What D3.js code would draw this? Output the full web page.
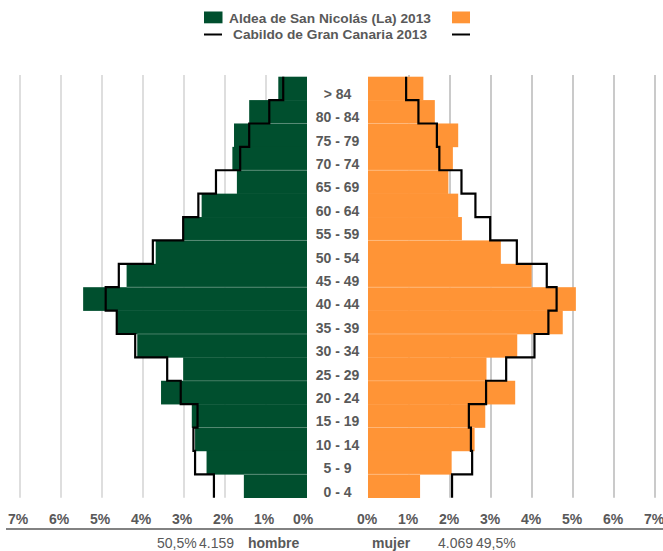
<!DOCTYPE html>
<html>
<head>
<meta charset="utf-8">
<script src="https://cdn.jsdelivr.net/npm/d3@7"></script>
<style>
  body { margin: 0; background: #fff; }
  text { font-family: "Liberation Sans", Arial, sans-serif; fill: #595959; }
</style>
</head>
<body>
<div id="pyramid"></div>
<script>
const width = 663;
const height = 551;

// grupos de edad, de arriba a abajo
const ages = ['> 84', '80 - 84', '75 - 79', '70 - 74', '65 - 69', '60 - 64', '55 - 59', '50 - 54', '45 - 49',
  '40 - 44', '35 - 39', '30 - 34', '25 - 29', '20 - 24', '15 - 19', '10 - 14', '5 - 9', '0 - 4'];

// % de la población total
const aldeaHombre = [0.70, 1.41, 1.78, 1.82, 1.71, 2.57, 3.02, 3.69, 4.40, 5.46, 4.63, 4.14, 3.02, 3.56, 2.81, 2.73, 2.45, 1.54];
const aldeaMujer = [1.35, 1.63, 2.20, 2.07, 1.96, 2.20, 2.29, 3.24, 3.99, 5.07, 4.75, 3.64, 2.89, 3.59, 2.86, 2.60, 2.04, 1.27];
const cabildoHombre = [0.58, 0.92, 1.41, 1.63, 2.22, 2.65, 3.02, 3.76, 4.59, 4.91, 4.64, 4.19, 3.41, 3.08, 2.67, 2.77, 2.73, 2.27];
const cabildoMujer = [0.93, 1.23, 1.68, 1.74, 2.28, 2.62, 2.98, 3.63, 4.36, 4.60, 4.40, 4.06, 3.37, 2.88, 2.46, 2.51, 2.54, 2.05];

const ticks = [0, 1, 2, 3, 4, 5, 6, 7];
const legendNames = ['Aldea de San Nicolás (La) 2013', 'Cabildo de Gran Canaria 2013'];
const totalHombre = ['50,5%', '4.159'];
const totalMujer = ['4.069', '49,5%'];

const green = '#004f2e';
const orange = '#ff9436';

const svg = d3.select('#pyramid')
  .append('svg')
  .attr('width', width)
  .attr('height', height);

const xL = d3.scaleLinear().domain([0, 7]).range([307, 20]);
const xR = d3.scaleLinear().domain([0, 7]).range([368, 655]);
const y = d3.scaleBand().domain(ages).range([76.7, 497.7]);
const bw = y.bandwidth();

// rejilla vertical
svg.append('g')
  .selectAll('line')
  .data(ticks.slice(1))
  .join('line')
  .attr('x1', d => xL(d)).attr('x2', d => xL(d))
  .attr('y1', 75).attr('y2', 497.7)
  .attr('stroke', '#d0d0d0')
  .attr('stroke-width', 1.4);

svg.append('g')
  .selectAll('line')
  .data(ticks.slice(1))
  .join('line')
  .attr('x1', d => xR(d)).attr('x2', d => xR(d))
  .attr('y1', 75).attr('y2', 497.7)
  .attr('stroke', '#b4b4b4')
  .attr('stroke-width', 1.4);

// barras
svg.append('g')
  .selectAll('rect')
  .data(aldeaHombre)
  .join('rect')
  .attr('x', d => xL(d))
  .attr('y', (d, i) => y(ages[i]))
  .attr('width', d => xL(0) - xL(d))
  .attr('height', bw + 0.3)
  .attr('fill', green);

svg.append('g')
  .selectAll('rect')
  .data(aldeaMujer)
  .join('rect')
  .attr('x', xR(0))
  .attr('y', (d, i) => y(ages[i]))
  .attr('width', d => xR(d) - xR(0))
  .attr('height', bw + 0.3)
  .attr('fill', orange);

// finas lineas claras entre algunas barras (como en el original)
const seams = [2, 4, 7, 9, 11, 13, 15, 17];
seams.forEach(k => {
  const yy = y(ages[k]);
  svg.append('line')
    .attr('x1', Math.max(xL(aldeaHombre[k]), xL(aldeaHombre[k - 1])))
    .attr('x2', xL(0))
    .attr('y1', yy).attr('y2', yy)
    .attr('stroke', 'rgba(255,255,255,0.35)')
    .attr('stroke-width', 0.8);
  svg.append('line')
    .attr('x1', xR(0))
    .attr('x2', Math.min(xR(aldeaMujer[k]), xR(aldeaMujer[k - 1])))
    .attr('y1', yy).attr('y2', yy)
    .attr('stroke', 'rgba(255,255,255,0.35)')
    .attr('stroke-width', 0.8);
});

// escalones del Cabildo
const stepPoints = (vals, x) => vals.flatMap((v, i) => [[x(v), y(ages[i])], [x(v), y(ages[i]) + bw]]);
const line = d3.line();

svg.append('path')
  .attr('d', line(stepPoints(cabildoHombre, xL)))
  .attr('fill', 'none')
  .attr('stroke', '#000')
  .attr('stroke-width', 2.2);

svg.append('path')
  .attr('d', line(stepPoints(cabildoMujer, xR)))
  .attr('fill', 'none')
  .attr('stroke', '#000')
  .attr('stroke-width', 2.2);

// etiquetas de edad (un poco por debajo del centro, como en el original)
svg.append('g')
  .selectAll('text')
  .data(ages)
  .join('text')
  .attr('x', (xL(0) + xR(0)) / 2)
  .attr('y', d => y(d) + bw / 2 + 10.5)
  .attr('text-anchor', 'middle')
  .style('font-size', '14px')
  .style('font-weight', 'bold')
  .text(d => d);

// eje inferior
svg.append('g')
  .selectAll('text')
  .data(ticks)
  .join('text')
  .attr('x', d => d === 0 ? xL(d) - 4 : xL(d) - 2)
  .attr('y', 524)
  .attr('text-anchor', 'middle')
  .style('font-size', '14px')
  .style('font-weight', 'bold')
  .text(d => d + '%');

svg.append('g')
  .selectAll('text')
  .data(ticks)
  .join('text')
  .attr('x', d => xR(d) - 1)
  .attr('y', 524)
  .attr('text-anchor', 'middle')
  .style('font-size', '14px')
  .style('font-weight', 'bold')
  .text(d => d + '%');

svg.append('line')
  .attr('x1', 6).attr('x2', width)
  .attr('y1', 529).attr('y2', 529)
  .attr('stroke', '#595959')
  .attr('stroke-width', 1.5);

// totales
const bottom = svg.append('g').style('font-size', '14px');
bottom.append('text').attr('x', 157).attr('y', 548).text(totalHombre[0]);
bottom.append('text').attr('x', 199).attr('y', 548).text(totalHombre[1]);
bottom.append('text').attr('x', 248).attr('y', 548).style('font-weight', 'bold').text('hombre');
bottom.append('text').attr('x', 372).attr('y', 548).style('font-weight', 'bold').text('mujer');
bottom.append('text').attr('x', 438).attr('y', 548).text(totalMujer[0]);
bottom.append('text').attr('x', 476).attr('y', 548).text(totalMujer[1]);

// leyenda
const legend = svg.append('g');
legend.append('rect').attr('x', 204).attr('y', 11.5).attr('width', 18.5).attr('height', 11.8).attr('fill', green);
legend.append('rect').attr('x', 452).attr('y', 11.5).attr('width', 18).attr('height', 11.8).attr('fill', orange);
legend.append('line').attr('x1', 204).attr('x2', 222).attr('y1', 34.5).attr('y2', 34.5).attr('stroke', '#000').attr('stroke-width', 2);
legend.append('line').attr('x1', 452).attr('x2', 470).attr('y1', 34.5).attr('y2', 34.5).attr('stroke', '#000').attr('stroke-width', 2);
legend.append('text').attr('x', 229).attr('y', 22.5)
  .attr('textLength', 202).attr('lengthAdjust', 'spacingAndGlyphs')
  .style('font-size', '13px').style('font-weight', 'bold').text(legendNames[0]);
legend.append('text').attr('x', 233).attr('y', 39)
  .attr('textLength', 194).attr('lengthAdjust', 'spacingAndGlyphs')
  .style('font-size', '13px').style('font-weight', 'bold').text(legendNames[1]);
</script>
</body>
</html>
